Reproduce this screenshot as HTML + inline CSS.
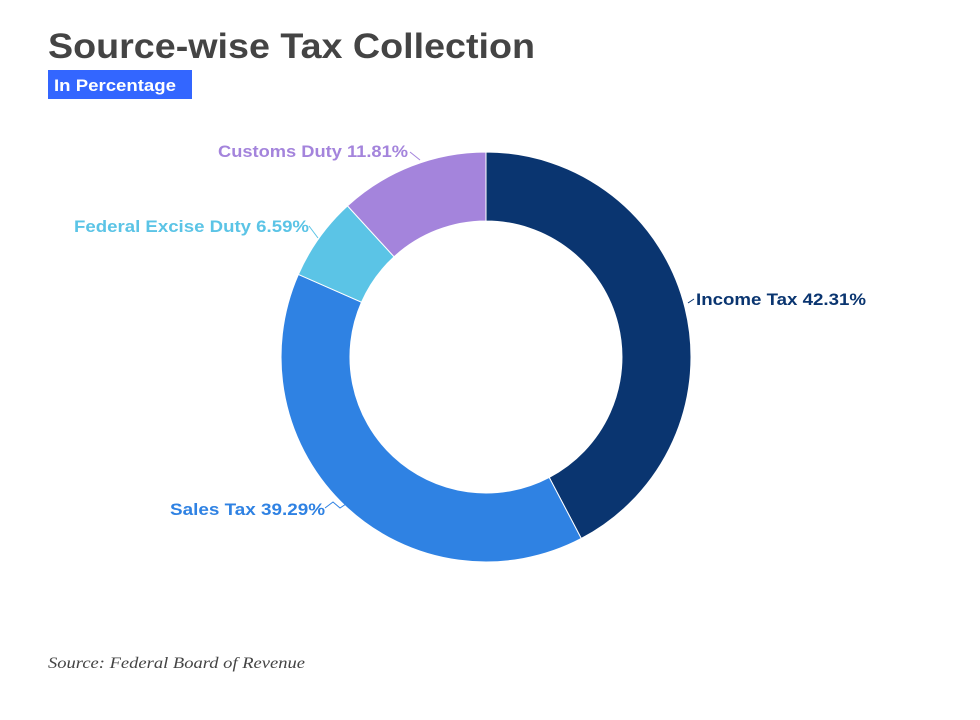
<!DOCTYPE html>
<html><head><meta charset="utf-8"><style>
body{margin:0;background:#fff;width:980px;height:715px;overflow:hidden;font-family:"Liberation Sans",sans-serif}
</style></head><body>
<svg width="980" height="715" xmlns="http://www.w3.org/2000/svg">
<text x="48" y="58" font-size="35" font-weight="bold" fill="#444" font-family="Liberation Sans, sans-serif" textLength="487" lengthAdjust="spacingAndGlyphs">Source-wise Tax Collection</text>
<rect x="48" y="70" width="144" height="29" fill="#3366ff"/>
<text x="54" y="91" font-size="17" font-weight="bold" fill="#fff" font-family="Liberation Sans, sans-serif" textLength="122" lengthAdjust="spacingAndGlyphs">In Percentage</text>
<g stroke="#fff" stroke-width="1">
<path d="M486,152 A205,205 0 0 1 581.3,538.5 L549.2,477.4 A136,136 0 0 0 486,221 Z" fill="#0a3570"/>
<path d="M581.3,538.5 A205,205 0 0 1 298.4,274.4 L361.5,302.2 A136,136 0 0 0 549.2,477.4 Z" fill="#2f82e3"/>
<path d="M298.4,274.4 A205,205 0 0 1 347.5,205.9 L394.1,256.8 A136,136 0 0 0 361.5,302.2 Z" fill="#5bc4e6"/>
<path d="M347.5,205.9 A205,205 0 0 1 486,152 L486,221 A136,136 0 0 0 394.1,256.8 Z" fill="#a484dc"/>
</g>
<g fill="none" stroke-width="1">
<path d="M688,303 L694,299" stroke="#0a3570"/>
<path d="M325,508 L333,502 L340,508 L346,504" stroke="#2f82e3"/>
<path d="M309,226 L318,238" stroke="#5bc4e6"/>
<path d="M410,152 L420,160" stroke="#a484dc"/>
</g>
<g font-size="17" font-weight="bold" font-family="Liberation Sans, sans-serif">
<text x="696" y="305" fill="#0a3570" textLength="170" lengthAdjust="spacingAndGlyphs">Income Tax 42.31%</text>
<text x="170" y="515" fill="#2f82e3" textLength="155" lengthAdjust="spacingAndGlyphs">Sales Tax 39.29%</text>
<text x="74" y="232" fill="#5bc4e6" textLength="235" lengthAdjust="spacingAndGlyphs">Federal Excise Duty 6.59%</text>
<text x="218" y="157" fill="#a484dc" textLength="190" lengthAdjust="spacingAndGlyphs">Customs Duty 11.81%</text>
</g>
<text x="48" y="668" font-size="16" font-style="italic" fill="#444" font-family="Liberation Serif, serif" textLength="257" lengthAdjust="spacingAndGlyphs">Source: Federal Board of Revenue</text>
</svg>
</body></html>
